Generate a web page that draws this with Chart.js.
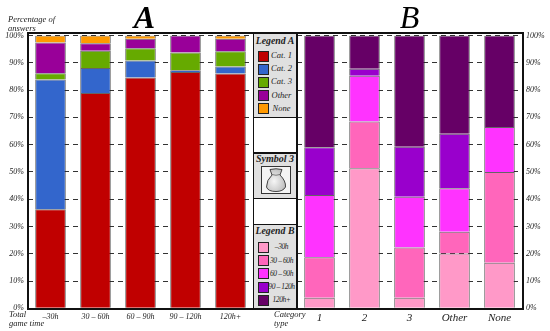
<!DOCTYPE html>
<html>
<head>
<meta charset="utf-8">
<script src="https://cdn.jsdelivr.net/npm/chart.js@4"></script>
<style>
html, body { margin: 0; padding: 0; background: #fff; }
#page { position: relative; width: 550px; height: 331px; overflow: hidden; font-family: "Liberation Serif", serif; font-style: italic; color: #222; }
canvas { position: absolute; top: 0; }
#chartA { left: 0; }
#chartB { left: 297px; }
.cap { position: absolute; font-size: 8.5px; line-height: 8.5px; white-space: nowrap; }
.line { position: absolute; background: #111; }
.panel { position: absolute; left: 254px; width: 42px; background: #e0e0e0; text-align: center; }
.panel .head { position: absolute; left: 0; right: 0; font-size: 9.8px; line-height: 11px; font-weight: bold; color: #222; white-space: nowrap; }
.swatch { position: absolute; left: 4px; width: 9px; height: 9px; border: 1px solid #222; }
.label { position: absolute; left: 13px; right: 0; line-height: 11px; white-space: nowrap; }
#symbol { position: absolute; left: 7px; top: 13px; width: 28px; height: 26px; background: #f4f4f4; border: 1px solid #333; }
</style>
</head>
<body>
<div id="page">
  <canvas id="chartA" width="253" height="331"></canvas>
  <canvas id="chartB" width="253" height="331"></canvas>

  <div class="cap" style="left:8px;top:15px">Percentage of<br>answers</div>
  <div class="cap" style="left:9px;top:310px">Total<br>game time</div>
  <div class="cap" style="left:274px;top:310px">Category<br>type</div>

  <div class="panel" id="legendA" style="top:34px;height:83px"></div>
  <div class="panel" id="panelSymbol" style="top:153px;height:45px">
    <div class="head" style="top:0;font-size:10px">Symbol 3</div>
    <div id="symbol">
      <svg width="28" height="26" viewBox="0 0 28 26">
        <defs>
          <radialGradient id="bag" cx="0.4" cy="0.55" r="0.7">
            <stop offset="0" stop-color="#f6f6f6"/>
            <stop offset="1" stop-color="#b5b5b5"/>
          </radialGradient>
        </defs>
        <path d="M8 2.5 Q14 1 20 2.5 L18 8 Q24 14 23.5 20 Q21 24.5 14 24.5 Q6 24.5 4.5 20 Q4.5 13 10 8 Z" fill="url(#bag)" stroke="#333" stroke-width="0.9"/>
        <path d="M10 7.5 Q14 9 18 7.5" fill="none" stroke="#555" stroke-width="0.7"/>
      </svg>
    </div>
  </div>
  <div class="panel" id="legendB" style="top:224px;height:84px"></div>

  <div class="line" style="left:27px;top:32px;width:497px;height:2px"></div>
  <div class="line" style="left:27px;top:307.5px;width:497px;height:2px"></div>
  <div class="line" style="left:27px;top:32px;width:2px;height:277px"></div>
  <div class="line" style="left:522px;top:32px;width:2px;height:277px"></div>
  <div class="line" style="left:252.5px;top:32px;width:1.5px;height:277px"></div>
  <div class="line" style="left:296px;top:32px;width:1.5px;height:277px"></div>
  <div class="line" style="left:253px;top:116.5px;width:44px;height:1.5px"></div>
  <div class="line" style="left:253px;top:152px;width:44px;height:1.5px"></div>
  <div class="line" style="left:253px;top:197.5px;width:44px;height:1.5px"></div>
  <div class="line" style="left:253px;top:223.5px;width:44px;height:1.5px"></div>
</div>

<script>
const yTicks = ['0%','10%','20%','30%','40%','50%','60%','70%','80%','90%','100%'];

const timeLabels = ['–30h','30 – 60h','60 – 90h','90 – 120h','120h+'];
const cat1Values  = [36.3, 78.9, 84.6, 86.6, 86.1];
const cat2Values  = [47.6,  9.2,  6.2,  0.7,  2.5];
const cat3Values  = [ 2.3,  6.3,  4.5,  6.5,  5.6];
const otherValues = [11.2,  2.8,  3.5,  6.2,  4.6];
const noneValues  = [ 2.6,  2.8,  1.2,  0.0,  1.2];

const typeLabels = ['1','2','3','Other','None'];
const under30Values  = [ 3.9, 51.3,  3.9, 20.1, 16.7];
const h30to60Values  = [14.8, 17.2, 18.4,  8.0, 33.3];
const h60to90Values  = [22.8, 16.7, 18.6, 15.9, 16.5];
const h90to120Values = [17.5,  2.6, 18.3, 20.0,  0.0];
const over120Values  = [41.0, 12.2, 40.8, 36.0, 33.5];

const legendANames = ['Cat. 1','Cat. 2','Cat. 3','Other','None'];
const legendAColors = ['#c00000','#3366cc','#66aa00','#990099','#ff9900'];
const legendBNames = ['–30h','30 – 60h','60 – 90h','90 – 120h','120h+'];
const legendBColors = ['#ff99c8','#ff66bb','#ff33ff','#9900cc','#660066'];

const serif = '"Liberation Serif", serif';

function makeDatasets(names, colors, rows) {
  return rows.map((row, i) => ({
    label: names[i],
    data: row,
    backgroundColor: colors[i],
    borderColor: 'rgba(35,35,35,0.7)',
    borderWidth: 1,
    barPercentage: 1,
    categoryPercentage: 0.68
  }));
}

function makeChart(id, title, labels, datasets, yPosition, xSize) {
  return new Chart(document.getElementById(id), {
    type: 'bar',
    data: { labels: labels, datasets: datasets },
    options: {
      responsive: false,
      animation: false,
      layout: { padding: 0, autoPadding: false },
      plugins: {
        legend: { display: false },
        tooltip: { enabled: false },
        title: {
          display: true,
          text: title,
          fullSize: false,
          color: '#000',
          font: { family: serif, size: 32, style: 'italic', weight: title.trim() == 'A' ? 'bold' : 'normal', lineHeight: 0.9 },
          padding: { top: 5.5, bottom: 1.2 }
        }
      },
      scales: {
        x: {
          stacked: true,
          grid: { display: false, drawTicks: false },
          border: { display: false },
          afterFit: scale => { scale.height = 22.7; },
          ticks: {
            padding: xSize > 9 ? 3 : 4,
            maxRotation: 0,
            autoSkip: false,
            color: '#222',
            font: { family: serif, size: xSize, style: 'italic' }
          }
        },
        y: {
          stacked: true,
          position: yPosition,
          min: 0,
          max: 100,
          afterFit: scale => { scale.width = 28; },
          afterBuildTicks: scale => { scale.ticks = yTicks.map((t, i) => ({ value: i * 10 })); },
          grid: { color: '#333', lineWidth: 1, drawTicks: false },
          border: { display: false, dash: [5, 4] },
          ticks: {
            padding: 4,
            color: '#222',
            callback: (v, i) => yTicks[i],
            font: { family: serif, size: 8, style: 'italic' }
          }
        }
      }
    }
  });
}

// leading space nudges the A over to where it sits in the original
makeChart('chartA', ' A', timeLabels,
  makeDatasets(legendANames, legendAColors, [cat1Values, cat2Values, cat3Values, otherValues, noneValues]), 'left', 8);
makeChart('chartB', 'B', typeLabels,
  makeDatasets(legendBNames, legendBColors, [under30Values, h30to60Values, h60to90Values, h90to120Values, over120Values]), 'right', 11);

function fillLegend(id, title, names, colors, firstTop, step, labelSize, tracking) {
  const panel = document.getElementById(id);
  let html = '<div class="head" style="top:1px">' + title + '</div>';
  names.forEach((name, i) => {
    const top = firstTop + i * step;
    html += '<div class="swatch" style="top:' + (top - 5) + 'px;background:' + colors[i] + '"></div>';
    html += '<div class="label" style="top:' + (top - 5.5) + 'px;font-size:' + labelSize + 'px;letter-spacing:' + tracking + 'px">' + name + '</div>';
  });
  panel.innerHTML = html;
}
fillLegend('legendA', 'Legend A', legendANames, legendAColors, 21.5, 13.2, 8.5, 0);
fillLegend('legendB', 'Legend B', legendBNames, legendBColors, 22.7, 13.3, 7.5, -0.4);
</script>
</body>
</html>
